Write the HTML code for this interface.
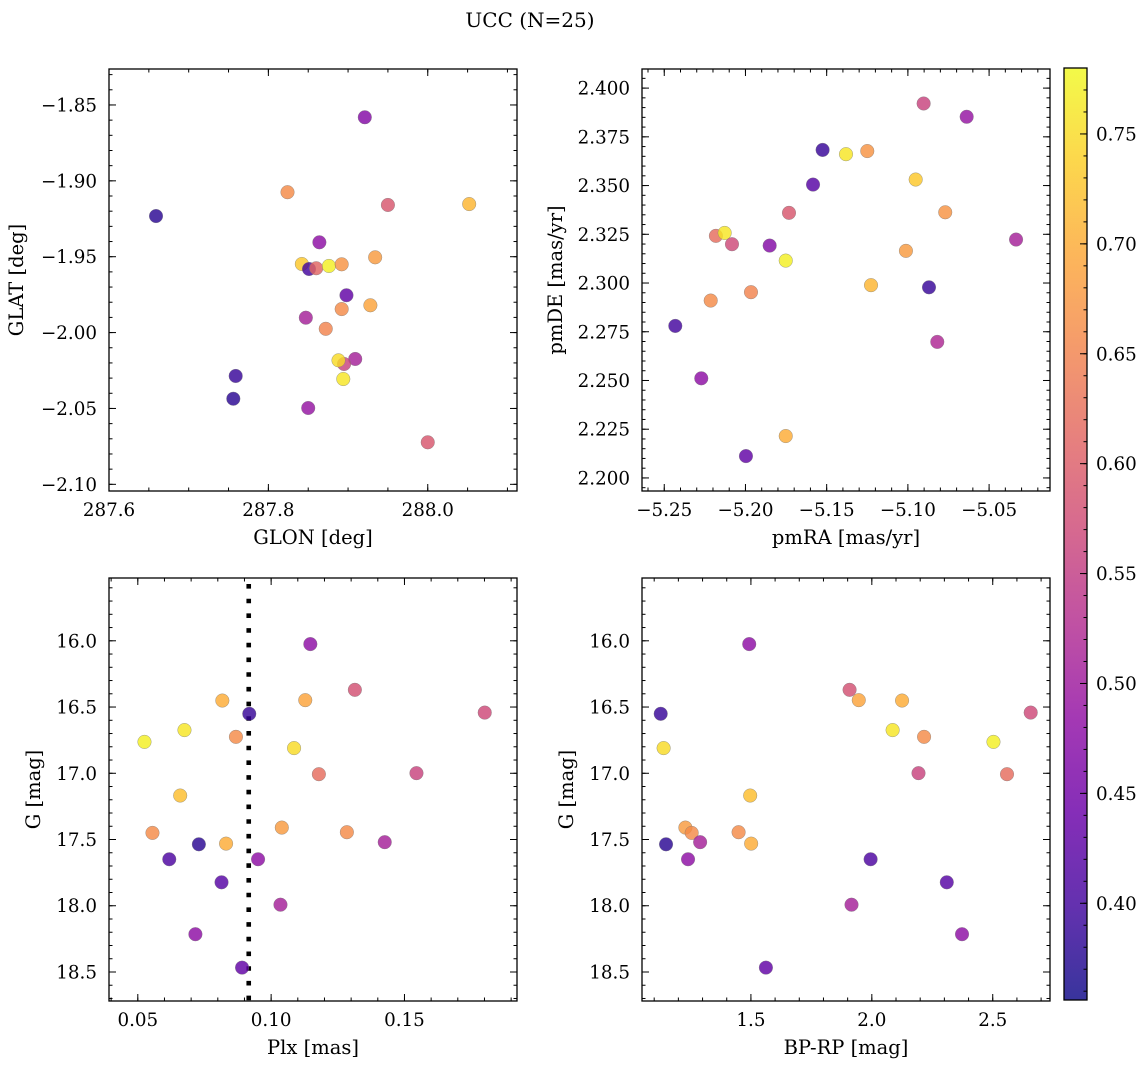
<!DOCTYPE html>
<html><head><meta charset="utf-8">
<style>
html,body{margin:0;padding:0;background:#fff;}
svg text{font-family:"DejaVu Serif","Liberation Serif",serif;fill:#000;}
</style></head>
<body>
<svg id="fig" width="1148" height="1068" viewBox="0 0 1148 1068" xmlns="http://www.w3.org/2000/svg">
<rect x="0" y="0" width="1148" height="1068" fill="#fff"/>
<text x="530" y="27" font-size="20" text-anchor="middle">UCC (N=25)</text>
</svg>
<script>
// ---- data ----
const glonVals = [287.921,287.824,287.950,288.052,287.659,287.864,287.934,287.842,287.851,287.860,287.876,287.892,287.898,287.928,287.892,287.847,287.872,287.909,287.895,287.888,287.894,287.759,287.756,287.850,288.000];
const glatVals = [-1.8581,-1.9075,-1.9159,-1.9153,-1.9232,-1.9405,-1.9504,-1.9548,-1.9581,-1.9576,-1.9561,-1.9550,-1.9754,-1.9820,-1.9845,-1.9902,-1.9975,-2.0174,-2.0207,-2.0183,-2.0306,-2.0286,-2.0436,-2.0497,-2.0723];
const glCol = [0.47,0.66,0.59,0.71,0.38,0.48,0.68,0.73,0.40,0.61,0.77,0.67,0.43,0.69,0.66,0.51,0.65,0.51,0.56,0.75,0.76,0.39,0.38,0.49,0.59];

const pmraVals = [-5.0903,-5.0638,-5.1525,-5.1381,-5.1250,-5.1584,-5.0952,-5.1732,-5.0770,-5.2182,-5.2128,-5.2083,-5.1851,-5.0334,-5.1752,-5.1012,-5.1227,-5.0870,-5.1966,-5.2214,-5.2432,-5.0819,-5.2272,-5.1752,-5.1997];
const pmdeVals = [2.3921,2.3853,2.3683,2.3661,2.3677,2.3505,2.3531,2.3360,2.3363,2.3242,2.3257,2.3199,2.3192,2.3223,2.3115,2.3165,2.2989,2.2978,2.2953,2.2910,2.2780,2.2698,2.2511,2.2215,2.2112];
const pmCol = [0.56,0.49,0.39,0.76,0.67,0.42,0.73,0.59,0.67,0.62,0.76,0.57,0.47,0.51,0.77,0.68,0.71,0.39,0.65,0.66,0.40,0.52,0.48,0.70,0.43];

const plxVals = [0.1147,0.1314,0.0817,0.1128,0.0918,0.1801,0.0675,0.0525,0.0868,0.1086,0.1179,0.1545,0.0659,0.0555,0.1040,0.1284,0.0729,0.0831,0.1426,0.0618,0.0951,0.0814,0.1035,0.0716,0.0891];
const gPlxVals = [16.025,16.370,16.451,16.448,16.551,16.542,16.674,16.763,16.725,16.810,17.007,16.999,17.168,17.450,17.410,17.445,17.536,17.531,17.520,17.649,17.649,17.823,17.992,18.215,18.467];
const plxCol = [0.48,0.58,0.70,0.69,0.39,0.57,0.76,0.77,0.66,0.75,0.62,0.56,0.72,0.66,0.68,0.66,0.38,0.70,0.51,0.41,0.48,0.42,0.51,0.48,0.43];
const plxLine = 0.0916;

const bprpVals = [1.493,1.908,1.946,2.125,1.127,2.657,2.086,2.503,2.216,1.139,2.193,2.559,1.497,1.229,1.255,1.449,1.149,1.501,1.290,1.240,1.995,2.310,1.916,2.373,1.562];
const gCmdVals = [16.025,16.370,16.448,16.451,16.551,16.542,16.674,16.763,16.725,16.810,16.999,17.007,17.168,17.410,17.450,17.445,17.536,17.531,17.520,17.649,17.649,17.823,17.992,18.215,18.467];
const cmdCol = [0.48,0.58,0.69,0.70,0.39,0.57,0.76,0.77,0.66,0.75,0.56,0.62,0.72,0.68,0.66,0.66,0.38,0.70,0.51,0.48,0.41,0.42,0.51,0.48,0.43];

const cbarTicks = [0.40,0.45,0.50,0.55,0.60,0.65,0.70,0.75];
const cMin = 0.356, cMax = 0.780;

// ---- helpers ----
const NS = "http://www.w3.org/2000/svg";
const svg = document.getElementById('fig');
function mk(tag, attrs, parent){
  const e = document.createElementNS(NS, tag);
  for (const k in attrs) e.setAttribute(k, attrs[k]);
  (parent||svg).appendChild(e);
  return e;
}
const plasma = [[13,8,135],[65,4,157],[106,0,168],[143,13,164],[177,42,144],[204,71,120],[225,100,98],[242,132,75],[252,166,54],[252,206,37],[240,249,33]];
function cmap(v){
  let t = (v-cMin)/(cMax-cMin); t = Math.max(0,Math.min(1,t));
  const p = t*10, i = Math.min(9,Math.floor(p)), f = p-i;
  const a = plasma[i], b = plasma[i+1];
  return 'rgb('+a.map((x,j)=>Math.round(x+(b[j]-x)*f)).join(',')+')';
}
function fmt(v,d){ return v.toFixed(d).replace('-','\u2212'); }
function ticksFor(lo,hi,step){
  const out=[]; const a=Math.ceil(lo/step-1e-6), b=Math.floor(hi/step+1e-6);
  for(let i=a;i<=b;i++) out.push(+(i*step).toFixed(6));
  return out;
}

function panel(o){
  const g = mk('g',{});
  
  
  const L=o.x0,R=o.x1,T=o.y0,B=o.y1;
  const sx = v => L + (v-o.xr[0])/(o.xr[1]-o.xr[0])*(R-L);
  const sy = v => B - (v-o.yr[0])/(o.yr[1]-o.yr[0])*(B-T);
  const clip = 'clip-'+o.name;
  const cp = mk('clipPath',{id:clip},g); mk('rect',{x:L,y:T,width:R-L,height:B-T},cp);
  const pg = mk('g',{'clip-path':'url(#'+clip+')'},g);
  
  
  if (o.vline!==undefined){
    const ln = mk('line',{x1:sx(o.vline),x2:sx(o.vline),y1:T+6,y2:B,stroke:'#000','stroke-width':4.6,'stroke-dasharray':'4.6 10.1'},pg);
    
    
  }
  for(let i=0;i<o.xs.length;i++){
    const c = mk('circle',{cx:sx(o.xs[i]),cy:sy(o.ys[i]),r:6.8,fill:cmap(o.cs[i]),'fill-opacity':0.82,stroke:'#777','stroke-width':0.5,'stroke-opacity':0.7},pg);
    
    
  }
  const tg = mk('g',{stroke:'#000','stroke-width':1},g);
  ticksFor(Math.min(...o.xr),Math.max(...o.xr),o.xmin).forEach(v=>{const x=sx(v);
    mk('line',{x1:x,x2:x,y1:B,y2:B-3.5},tg); mk('line',{x1:x,x2:x,y1:T,y2:T+3.5},tg);});
  ticksFor(Math.min(...o.yr),Math.max(...o.yr),o.ymin).forEach(v=>{const y=sy(v);
    mk('line',{x1:L,x2:L+3.5,y1:y,y2:y},tg); mk('line',{x1:R,x2:R-3.5,y1:y,y2:y},tg);});
  ticksFor(Math.min(...o.xr),Math.max(...o.xr),o.xmaj).forEach(v=>{const x=sx(v);
    mk('line',{x1:x,x2:x,y1:B,y2:B-7},tg); mk('line',{x1:x,x2:x,y1:T,y2:T+7},tg);
    const t=mk('text',{x:x,y:B+25,'font-size':18.3,'text-anchor':'middle'},g); t.textContent=fmt(v,o.xd);
     });
  ticksFor(Math.min(...o.yr),Math.max(...o.yr),o.ymaj).forEach(v=>{const y=sy(v);
    mk('line',{x1:L,x2:L+7,y1:y,y2:y},tg); mk('line',{x1:R,x2:R-7,y1:y,y2:y},tg);
    const t=mk('text',{x:L-12,y:y+6.5,'font-size':18.3,'text-anchor':'end'},g); t.textContent=fmt(v,o.yd);
     });
  const fr = mk('rect',{x:L,y:T,width:R-L,height:B-T,fill:'none',stroke:'#000','stroke-width':1.3},g);
   
  const xl = mk('text',{x:(L+R)/2,y:B+53,'font-size':19.5,'text-anchor':'middle'},g); xl.textContent=o.xlab;
   
  const yl = mk('text',{x:o.ylx,y:(T+B)/2,'font-size':19.5,'text-anchor':'middle',transform:'rotate(-90 '+o.ylx+' '+(T+B)/2+')'},g); yl.textContent=o.ylab;
   
}

panel({name:'glon-glat-panel',x0:109,x1:517,y0:69,y1:491,xr:[287.600,288.112],yr:[-2.1044,-1.8263],xs:glonVals,ys:glatVals,cs:glCol,
  xmaj:0.2,xmin:0.05,ymaj:0.05,ymin:0.01,xd:1,yd:2,xlab:'GLON [deg]',ylab:'GLAT [deg]',ylx:23});
panel({name:'proper-motion-panel',x0:642,x1:1050,y0:69,y1:491,xr:[-5.2637,-5.0125],yr:[2.1933,2.4098],xs:pmraVals,ys:pmdeVals,cs:pmCol,
  xmaj:0.05,xmin:0.01,ymaj:0.025,ymin:0.005,xd:2,yd:3,xlab:'pmRA [mas/yr]',ylab:'pmDE [mas/yr]',ylx:562});
panel({name:'plx-g-panel',x0:109,x1:517,y0:578,y1:1001,xr:[0.0392,0.1922],yr:[18.719,15.526],xs:plxVals,ys:gPlxVals,cs:plxCol,vline:plxLine,
  xmaj:0.05,xmin:0.01,ymaj:0.5,ymin:0.1,xd:2,yd:1,xlab:'Plx [mas]',ylab:'G [mag]',ylx:40});
panel({name:'cmd-panel',x0:642,x1:1050,y0:578,y1:1001,xr:[1.0496,2.7368],yr:[18.719,15.526],xs:bprpVals,ys:gCmdVals,cs:cmdCol,
  xmaj:0.5,xmin:0.1,ymaj:0.5,ymin:0.1,xd:1,yd:1,xlab:'BP-RP [mag]',ylab:'G [mag]',ylx:573});

// ---- colorbar ----
(function(){
  const L=1064,R=1087,T=68,B=1000;
  const g = mk('g',{});
  
  
  const defs = mk('defs',{},g);
  const lg = mk('linearGradient',{id:'cbg',x1:0,y1:1,x2:0,y2:0},defs);
  for(let i=0;i<=40;i++){ const v=cMin+(cMax-cMin)*i/40; mk('stop',{offset:(i/40),'stop-color':cmap(v),'stop-opacity':0.82},lg); }
  mk('rect',{x:L,y:T,width:R-L,height:B-T,fill:'url(#cbg)'},g);
  const sy = v => B-(v-cMin)/(cMax-cMin)*(B-T);
  ticksFor(cMin,cMax,0.01).forEach(v=>mk('line',{x1:R,x2:R-3.5,y1:sy(v),y2:sy(v),stroke:'#000','stroke-width':1},g));
  cbarTicks.forEach(v=>{const y=sy(v);
    mk('line',{x1:R,x2:R-7,y1:y,y2:y,stroke:'#000','stroke-width':1},g);
    const t=mk('text',{x:R+9,y:y+6.5,'font-size':18.3},g); t.textContent=v.toFixed(2);
     });
  mk('rect',{x:L,y:T,width:R-L,height:B-T,fill:'none',stroke:'#000','stroke-width':1.3},g);
})();
</script>
</body></html>
